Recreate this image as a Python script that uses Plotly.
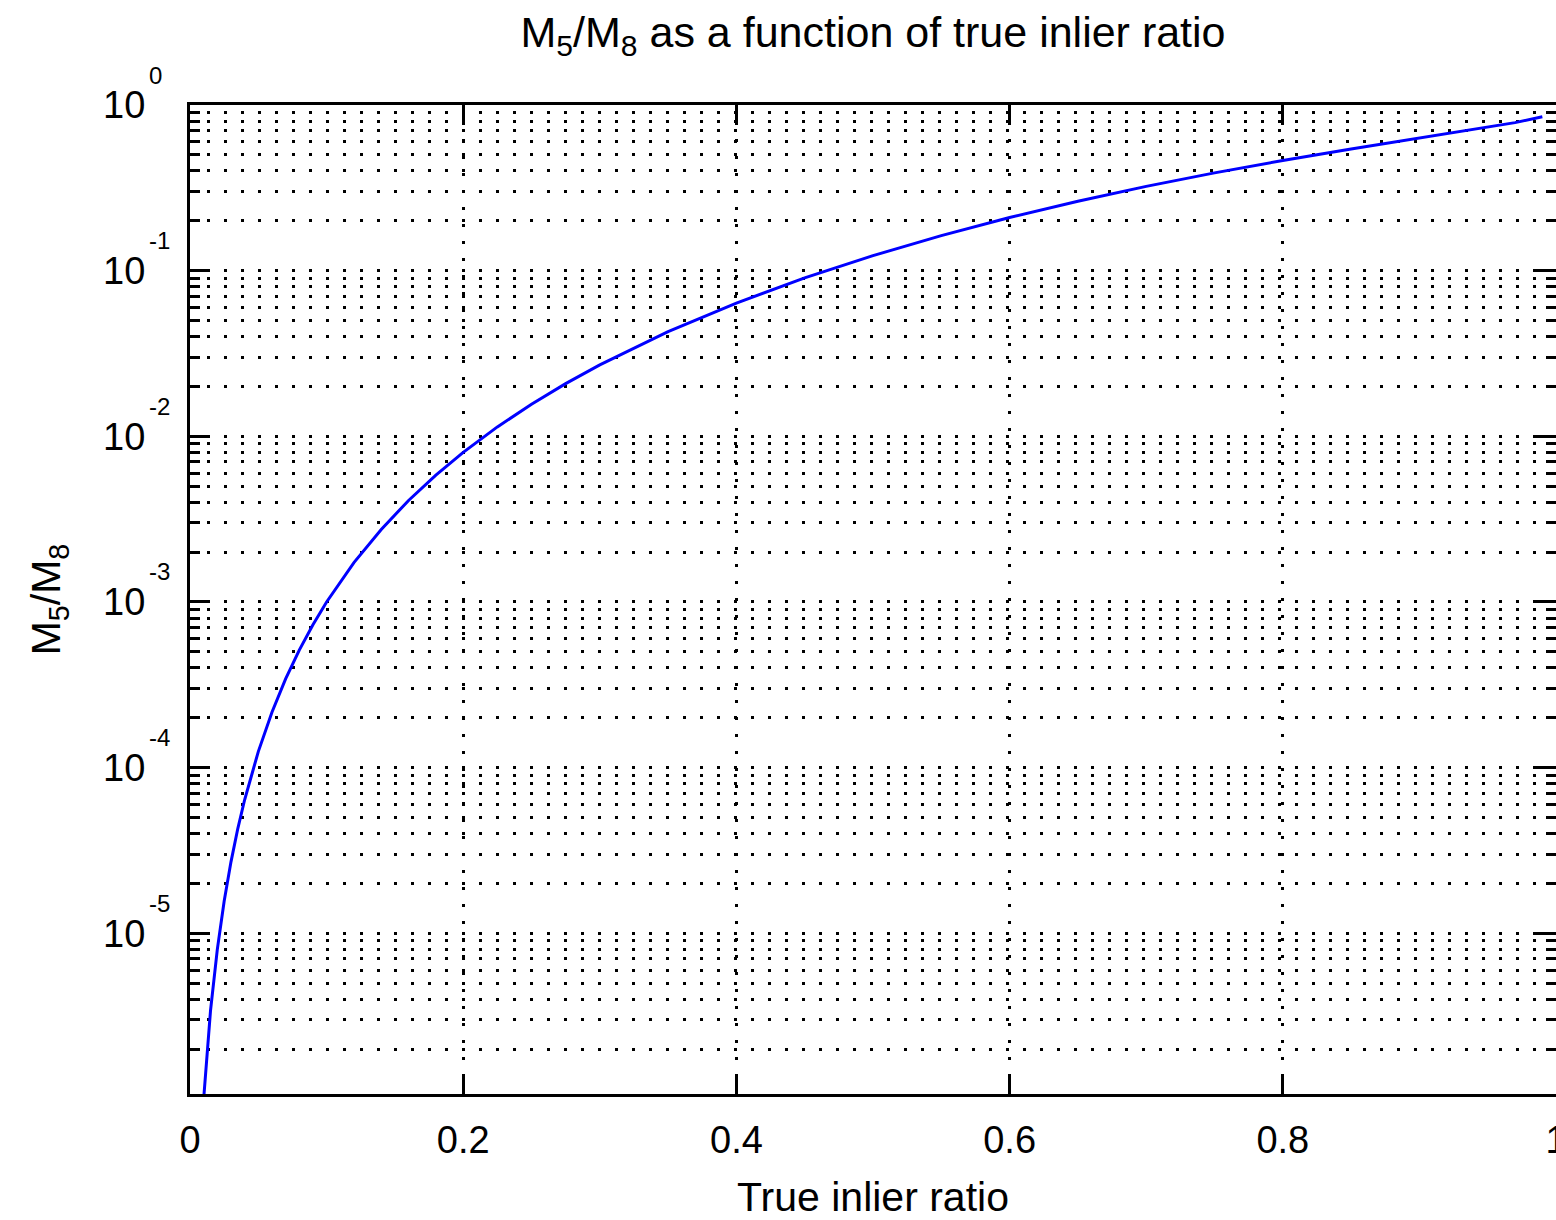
import math
import plotly.graph_objects as go

# Data
inlier_ratio = [0.01, 0.015, 0.02, 0.025, 0.03, 0.035, 0.04, 0.05, 0.06, 0.07, 0.08, 0.09,
                0.1, 0.12, 0.14, 0.16, 0.18, 0.2, 0.225, 0.25, 0.275, 0.3, 0.35, 0.4,
                0.45, 0.5, 0.55, 0.6, 0.65, 0.7, 0.75, 0.8, 0.85, 0.9, 0.95, 0.97, 0.99]
m5_over_m8 = [1.0e-6, 3.4e-6, 8.0e-6, 1.56e-5, 2.7e-5, 4.29e-5, 6.4e-5, 1.25e-4, 2.16e-4,
              3.43e-4, 5.12e-4, 7.29e-4, 1.0e-3, 1.73e-3, 2.74e-3, 4.1e-3, 5.83e-3, 8.0e-3,
              1.14e-2, 1.56e-2, 2.08e-2, 2.70e-2, 4.28e-2, 6.37e-2, 9.04e-2, 0.1233, 0.1628,
              0.2093, 0.2626, 0.3227, 0.3894, 0.4626, 0.5423, 0.6306, 0.7327, 0.7824, 0.8491]

x_ticks = [0, 0.2, 0.4, 0.6, 0.8, 1]
x_tick_labels = ["0", "0.2", "0.4", "0.6", "0.8", "1"]
y_decades = [-5, -4, -3, -2, -1, 0]
y_exponents = ["-5", "-4", "-3", "-2", "-1", "0"]

FONT = "Liberation Sans, Arial, sans-serif"
y_tickvals = [10 ** d for d in y_decades]
y_minor = [m * 10 ** d for d in range(-6, 0) for m in range(2, 10)]

fig = go.Figure()
fig.add_trace(go.Scatter(
    x=inlier_ratio, y=m5_over_m8, mode="lines",
    line=dict(color="#0000ff", width=3), showlegend=False,
))

grid_dash = "3px,14px"
fig.update_layout(
    width=1556, height=1220,
    margin=dict(l=190, r=0, t=105, b=126, autoexpand=False),
    paper_bgcolor="white", plot_bgcolor="white",
    font=dict(family=FONT, color="black", size=38),
    title=dict(text="M<sub>5</sub>/M<sub>8</sub> as a function of true inlier ratio",
               x=0.5, xref="paper", xanchor="center", y=1, yref="paper", yanchor="bottom",
               pad=dict(b=58), font=dict(size=43, family=FONT)),
    xaxis=dict(
        range=[0, 1], tickvals=x_ticks, ticktext=x_tick_labels,
        showline=True, linecolor="black", linewidth=3, mirror="ticks",
        ticks="inside", ticklen=17, tickwidth=3, tickcolor="black",
        showgrid=True, gridcolor="black", gridwidth=3, griddash=grid_dash,
        zeroline=False, tickfont=dict(size=38), ticklabelstandoff=10,
        ticklabeloverflow="allow", automargin=False,
        title=dict(text="True inlier ratio", font=dict(size=41), standoff=34),
    ),
    yaxis=dict(
        type="log", range=[-5.97, 0], tickvals=y_tickvals, ticktext=["10"] * len(y_tickvals),
        showline=True, linecolor="black", linewidth=3, mirror="allticks",
        ticks="inside", ticklen=20, tickwidth=3, tickcolor="black",
        showgrid=True, gridcolor="black", gridwidth=3, griddash=grid_dash,
        zeroline=False, tickfont=dict(size=38), ticklabelstandoff=34, automargin=False,
        minor=dict(tickvals=y_minor, ticks="inside", ticklen=10, tickwidth=3,
                   tickcolor="black", showgrid=True, gridcolor="black", gridwidth=3,
                   griddash=grid_dash),
        title=dict(text="M<sub>5</sub>/M<sub>8</sub>", font=dict(size=41), standoff=30),
    ),
)

for d, e in zip(y_decades, y_exponents):
    fig.add_annotation(
        x=0, xref="paper", y=d, yref="y", text=e, showarrow=False,
        xanchor="left", yanchor="middle", xshift=-43, yshift=30,
        font=dict(size=24, family=FONT, color="black"),
    )

fig.write_html("out.html", config={"displayModeBar": False},
               post_script="document.body.style.margin='0';document.body.style.overflow='hidden';")
